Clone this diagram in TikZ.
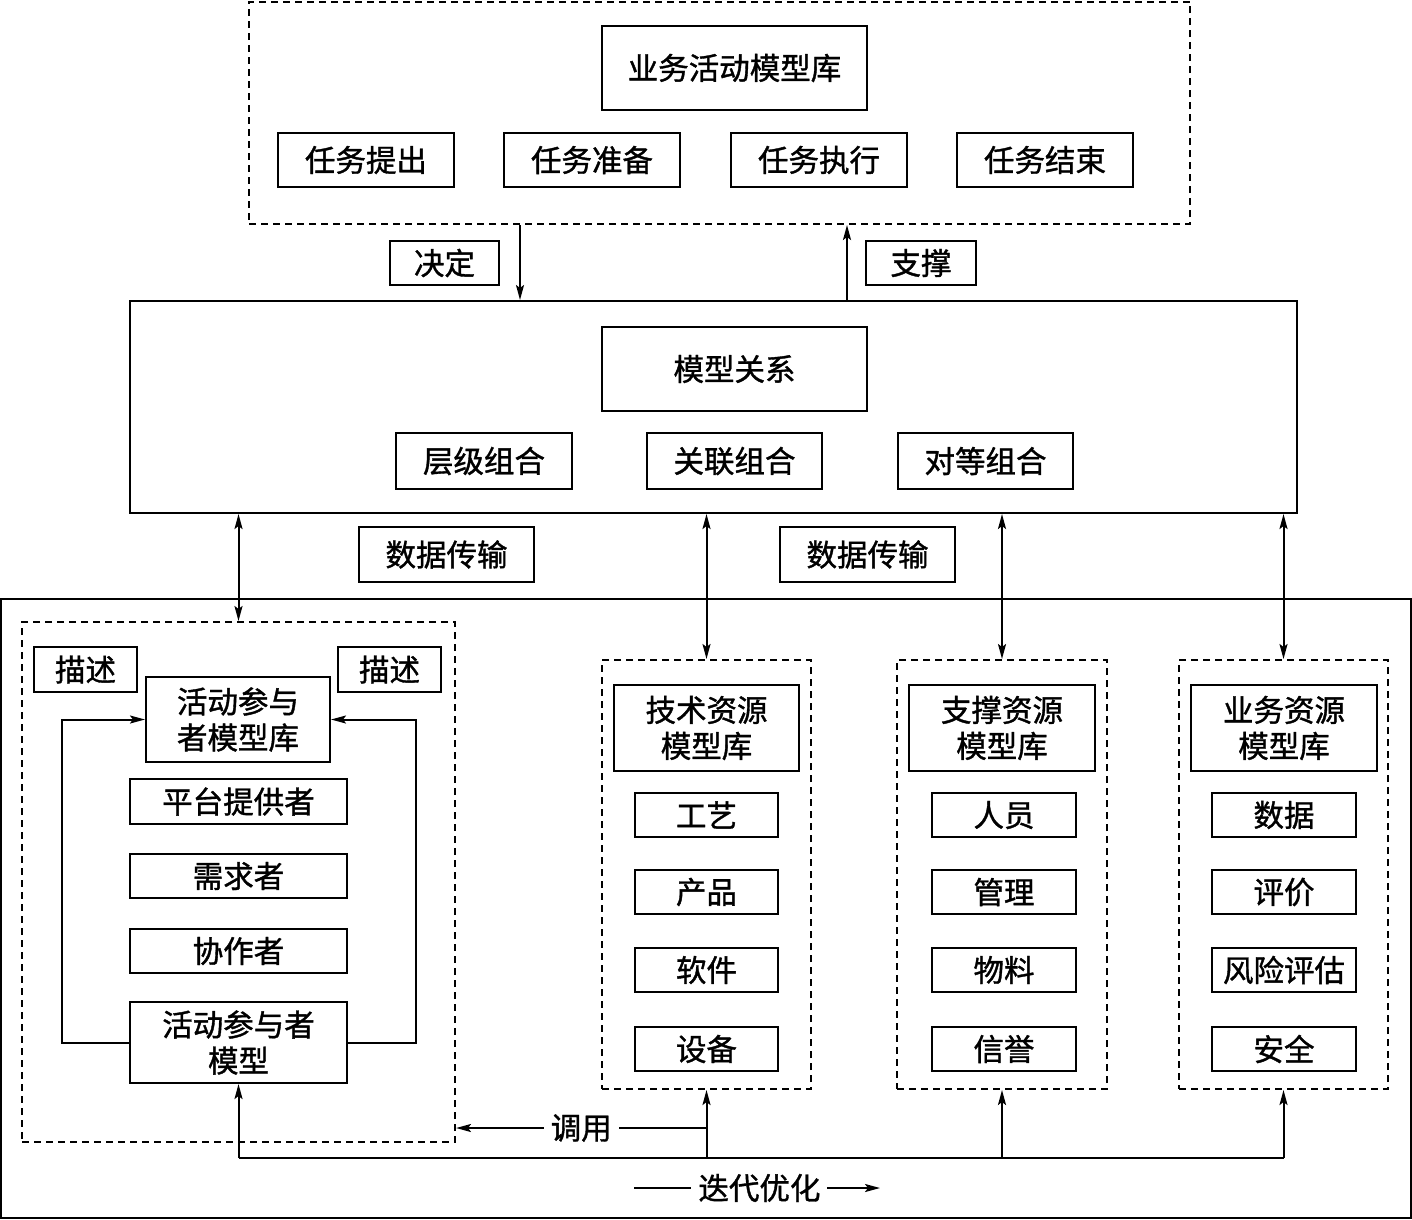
\documentclass[tikz,border=0pt]{standalone}
\usepackage{fontspec}
\setmainfont{Noto Sans CJK SC}[FakeBold=1.2]
\usetikzlibrary{arrows.meta}
\tikzset{
  bx/.style={draw, line width=2pt, inner sep=0pt, align=center, font=\fontsize{30.5}{36}\selectfont},
  dbx/.style={draw, line width=2pt, dash pattern=on 7pt off 5pt, inner sep=0pt},
  conn/.style={line width=2pt},
  arr/.style={conn, -{Stealth[length=15pt,width=8pt,inset=3pt]}},
  darr/.style={conn, {Stealth[length=15pt,width=8pt,inset=3pt]}-{Stealth[length=15pt,width=8pt,inset=3pt]}},
  lbl/.style={fill=white, inner sep=7pt, font=\fontsize{30.5}{36}\selectfont}
}
\newcommand\boxat[7]{\node[#1,minimum width={#5-#3},minimum height={#6-#4}] (#2) at ({(#3+#5)/2},{(#4+#6)/2}) {#7};}
\begin{document}
\begin{tikzpicture}[x=1pt,y=-1pt]
\useasboundingbox (0,0) rectangle (1412,1219);
% top area
\boxat{dbx}{top}{249}{1.5}{1190}{224}{}
\boxat{bx}{blib}{602}{26}{867}{110}{业务活动模型库}
\boxat{bx}{t1}{278}{133}{454}{187}{任务提出}
\boxat{bx}{t2}{504}{133}{680}{187}{任务准备}
\boxat{bx}{t3}{731}{133}{907}{187}{任务执行}
\boxat{bx}{t4}{957}{133}{1133}{187}{任务结束}
\boxat{bx}{jd}{390}{241}{499}{285}{决定}
\boxat{bx}{zc}{866}{241}{976}{285}{支撑}
% middle
\boxat{bx}{mid}{130}{301}{1297}{513}{}
\boxat{bx}{rel}{602}{327}{867}{411}{模型关系}
\boxat{bx}{r1}{396}{433}{572}{489}{层级组合}
\boxat{bx}{r2}{647}{433}{822}{489}{关联组合}
\boxat{bx}{r3}{898}{433}{1073}{489}{对等组合}
\boxat{bx}{dt1}{359}{527}{534}{582}{数据传输}
\boxat{bx}{dt2}{780}{527}{955}{582}{数据传输}
\coordinate (xd) at (520,0);
\coordinate (xz) at (847,0);
\draw[arr] (top.south -| xd) -- (mid.north -| xd);
\draw[arr] (mid.north -| xz) -- (top.south -| xz);
% bottom outer
\boxat{bx}{outer}{1}{599}{1410.5}{1217.5}{}
% left group
\boxat{dbx}{ld}{22}{622}{455}{1142}{}
\boxat{bx}{ms1}{34}{647}{137}{692}{描述}
\boxat{bx}{ms2}{338}{647}{441}{692}{描述}
\boxat{bx}{apl}{146}{677}{330}{762}{活动参与\\者模型库}
\boxat{bx}{p1}{130}{779}{347}{824}{平台提供者}
\boxat{bx}{p2}{130}{854}{347}{898}{需求者}
\boxat{bx}{p3}{130}{929}{347}{973}{协作者}
\boxat{bx}{apm}{130}{1002}{347}{1083}{活动参与者\\模型}
\coordinate (lL) at (62,0);
\coordinate (lR) at (416,0);
\draw[arr] (apm.west) -- (apm.west -| lL) |- (apl.west);
\draw[arr] (apm.east) -- (apm.east -| lR) |- (apl.east);
% tech group
\boxat{dbx}{tg}{602}{660}{811}{1089}{}
\boxat{bx}{tt}{614}{685}{799}{771}{技术资源\\模型库}
\boxat{bx}{ta}{635}{793}{778}{837}{工艺}
\boxat{bx}{tb}{635}{870}{778}{914}{产品}
\boxat{bx}{tc}{635}{948}{778}{992}{软件}
\boxat{bx}{td}{635}{1027}{778}{1071}{设备}
% support group
\boxat{dbx}{sg}{897}{660}{1107}{1089}{}
\boxat{bx}{st}{909}{685}{1095}{771}{支撑资源\\模型库}
\boxat{bx}{sa}{932}{793}{1076}{837}{人员}
\boxat{bx}{sb}{932}{870}{1076}{914}{管理}
\boxat{bx}{sc}{932}{948}{1076}{992}{物料}
\boxat{bx}{sd}{932}{1027}{1076}{1071}{信誉}
% business group
\boxat{dbx}{bg}{1179}{660}{1388}{1089}{}
\boxat{bx}{bt}{1191}{685}{1377}{771}{业务资源\\模型库}
\boxat{bx}{ba}{1212}{793}{1356}{837}{数据}
\boxat{bx}{bb}{1212}{870}{1356}{914}{评价}
\boxat{bx}{bc}{1212}{948}{1356}{992}{风险评估}
\boxat{bx}{bd}{1212}{1027}{1356}{1071}{安全}
% data transfer arrows
\draw[darr] (mid.south -| ld.north) -- (ld.north);
\draw[darr] (mid.south -| tg.north) -- (tg.north);
\draw[darr] (mid.south -| sg.north) -- (sg.north);
\draw[darr] (mid.south -| bg.north) -- (bg.north);
% base line
\coordinate (base) at (0,1158);
\draw[conn] (apm.south |- base) -- (bg.south |- base);
\draw[arr] (apm.south |- base) -- (apm.south);
\draw[arr] (tg.south |- base) -- (tg.south);
\draw[arr] (sg.south |- base) -- (sg.south);
\draw[arr] (bg.south |- base) -- (bg.south);
% call
\coordinate (cy) at (0,1128);
\draw[arr] (tg.south |- cy) -- (ld.east |- cy) node[lbl, midway] (call) {调用};
% iterate
\coordinate (it1) at (634,1188);
\coordinate (it2) at (880,1188);
\draw[arr] (it1) -- (it2) node[lbl, pos=0.51] (iter) {迭代优化};
\end{tikzpicture}
\end{document}
